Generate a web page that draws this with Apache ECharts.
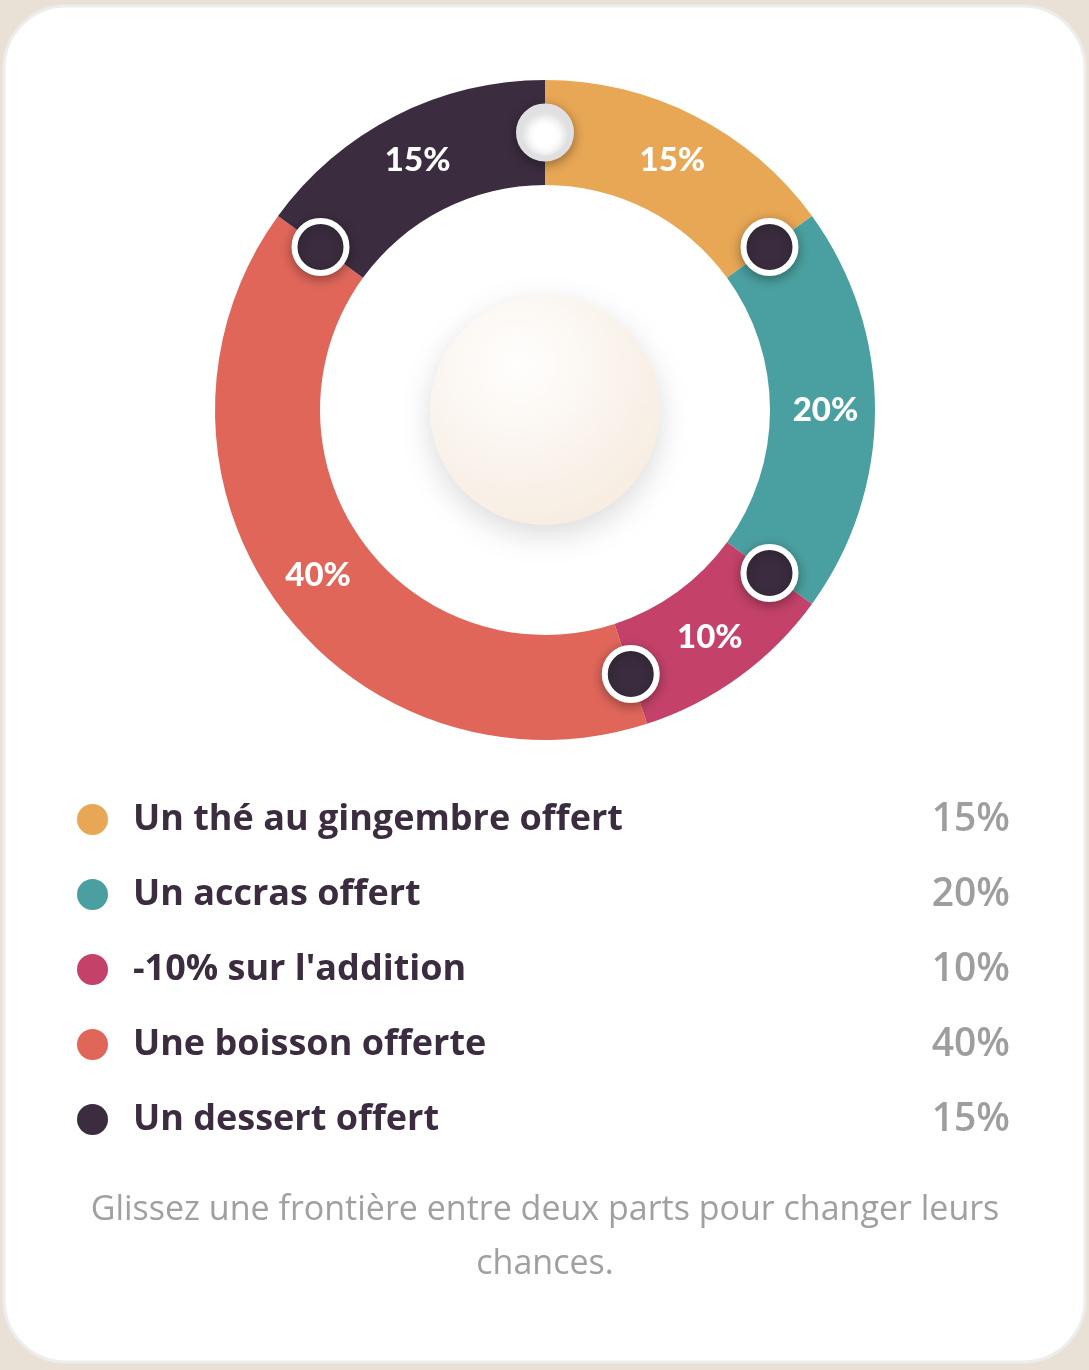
<!DOCTYPE html>
<html>
<head>
<meta charset="utf-8">
<script src="https://cdn.jsdelivr.net/npm/echarts@6/dist/echarts.min.js"></script>
<style>
html,body{margin:0;padding:0;background:#e9e1d5;}
#chart{width:1089px;height:1370px;}
</style>
</head>
<body>
<div id="chart"></div>
<script>
// ---- data ----
var categories = ["Un thé au gingembre offert", "Un accras offert", "-10% sur l'addition", "Une boisson offerte", "Un dessert offert"];
var values = [15, 20, 10, 40, 15];
var colors = ["#E8A755", "#4AA0A0", "#C4426A", "#E0665A", "#3B2D3F"];
var footerText = "Glissez une frontière entre deux parts pour changer leurs\nchances.";

// ---- build ----
var total = values.reduce(function(a,b){return a+b;},0);
var pieData = categories.map(function(c,i){
  return {name:c, value:values[i], itemStyle:{color:colors[i]}};
});
var valueByName = {};
categories.forEach(function(c,i){valueByName[c]=values[i];});

var RING_IN = 225, RING_OUT = 330, RING_MID = (RING_IN+RING_OUT)/2;
var handles = [];
var cum = 0;
values.forEach(function(v,i){
  var item = {value:[RING_MID, cum/total*100]};
  if(i===0){
    item.itemStyle = {color:'#ffffff', borderColor:'#e0e0e3'};
  }
  handles.push(item);
  cum += v;
});

var chart = echarts.init(document.getElementById('chart'), null, {renderer:'canvas'});
var font = '"Open Sans", "Noto Sans", sans-serif';
chart.setOption({
  backgroundColor:'#e9e1d5',
  animation:false,
  graphic:[
    {type:'rect', z:-10, shape:{x:4, y:6, width:1081, height:1356, r:62},
     style:{fill:'#ffffff', stroke:'#ededee', lineWidth:3}},
    {type:'circle', z:5, shape:{cx:545, cy:410, r:115},
     style:{
       fill:{type:'radial', x:0.38, y:0.3, r:0.8, colorStops:[
         {offset:0, color:'#fffefd'},{offset:1, color:'#f6ebdf'}]},
       shadowBlur:30, shadowColor:'rgba(0,0,0,0.14)', shadowOffsetY:10
     }},
    {type:'text', z:5, x:545, y:1183,
     style:{text:footerText, align:'center', verticalAlign:'top',
       font:'400 34px "Open Sans", sans-serif', fill:'#a0a0a0', lineHeight:54}}
  ],
  legend:{
    orient:'vertical', left:77, top:800, padding:0,
    icon:'circle', itemWidth:31, itemHeight:31, itemGap:36,
    selectedMode:false,
    data:categories,
    formatter:function(name){
      return '{n|'+name+'}{v|'+valueByName[name]+'%}';
    },
    textStyle:{
      rich:{
        n:{fontFamily:font, fontSize:36, fontWeight:700, color:'#3B2D3F', width:787, padding:[0,0,0,20], lineHeight:40},
        v:{fontFamily:font, fontSize:39, fontWeight:600, color:'#9e9e9e', width:90, align:'right', lineHeight:40}
      }
    }
  },
  polar:{center:[545,410], radius:RING_OUT},
  angleAxis:{type:'value', min:0, max:100, startAngle:90, clockwise:true, show:false},
  radiusAxis:{type:'value', min:0, max:RING_OUT, show:false},
  series:[
    {
      type:'pie', center:[545,410], radius:[RING_IN, RING_OUT],
      startAngle:90, clockwise:true, avoidLabelOverlap:false,
      silent:true,
      label:{show:true, position:'inside', formatter:'{c}%',
        color:'#ffffff', fontFamily:'Lato, "Open Sans", sans-serif', fontSize:33, fontWeight:900},
      labelLine:{show:false},
      data:pieData, z:2
    },
    {
      type:'scatter', coordinateSystem:'polar', z:10,
      symbol:'circle', symbolSize:52,
      itemStyle:{color:'#3B2D3F', borderColor:'#ffffff', borderWidth:6,
        shadowBlur:12, shadowColor:'rgba(0,0,0,0.3)', shadowOffsetY:3, opacity:1},
      data:handles, silent:true
    }
  ]
});
</script>
</body>
</html>
